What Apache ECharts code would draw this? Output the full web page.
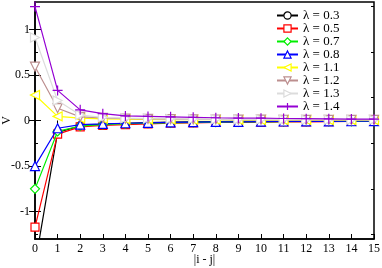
<!DOCTYPE html>
<html><head><meta charset="utf-8">
<script src="https://cdn.jsdelivr.net/npm/echarts@6/dist/echarts.min.js"></script>
<style>html,body{margin:0;padding:0;background:#fff}#c{width:382px;height:268px}</style>
</head><body><div id="c"></div>
<script>
const distances = [0,1,2,3,4,5,6,7,8,9,10,11,12,13,14,15];
const seriesNames = ['λ = 0.3','λ = 0.5','λ = 0.7','λ = 0.8','λ = 1.1','λ = 1.2','λ = 1.3','λ = 1.4'];
const v03 = [-1.58,-0.13,-0.06,-0.04,-0.03,-0.022,-0.018,-0.015,-0.012,-0.01,-0.009,-0.008,-0.007,-0.006,-0.005,-0.004];
const v05 = [-1.17,-0.15,-0.07,-0.055,-0.045,-0.036,-0.03,-0.026,-0.022,-0.02,-0.018,-0.016,-0.014,-0.012,-0.011,-0.01];
const v07 = [-0.75,-0.12,-0.06,-0.045,-0.035,-0.03,-0.025,-0.021,-0.018,-0.016,-0.014,-0.012,-0.011,-0.01,-0.009,-0.008];
const v08 = [-0.5,-0.085,-0.045,-0.038,-0.03,-0.025,-0.021,-0.018,-0.016,-0.014,-0.012,-0.011,-0.01,-0.009,-0.008,-0.007];
const v11 = [0.28,0.045,0.025,0.018,0.014,0.012,0.01,0.009,0.008,0.007,0.006,0.006,0.005,0.005,0.004,0.004];
const v12 = [0.59,0.135,0.04,0.028,0.02,0.017,0.015,0.013,0.011,0.01,0.009,0.008,0.007,0.007,0.006,0.006];
const v13 = [0.91,0.22,0.06,0.035,0.025,0.021,0.018,0.016,0.014,0.012,0.011,0.01,0.009,0.008,0.008,0.007];
const v14 = [1.25,0.33,0.117,0.075,0.05,0.045,0.04,0.035,0.03,0.027,0.025,0.022,0.02,0.018,0.016,0.014];
const xTicks = [0,1,2,3,4,5,6,7,8,9,10,11,12,13,14,15];
const yMajor = [-1,-0.5,0,0.5,1];
const yMinor = [-1.25,-0.75,-0.25,0.25,0.75,1.25];

const allValues = [v03,v05,v07,v08,v11,v12,v13,v14];
const colors = ['#000000','#ff0000','#00ee00','#0000ff','#ffff00','#bc8f8f','#dcdcdc','#9400d3'];
const symbols = [
  'circle','rect','diamond','triangle',
  'path://M0,5L10,0L10,10Z',
  'path://M0,0L10,0L5,10Z',
  'path://M10,5L0,0L0,10Z',
  'path://M0,5L10,5M5,0L5,10'
];
const sizes = [8,8,9,9,9,9,9,10];
const font = 'Liberation Serif';

const series = allValues.map((vals,i)=>({
  name: seriesNames[i], type:'line',
  data: vals.map((v,k)=>[distances[k], v]),
  symbol: symbols[i], symbolSize: sizes[i], showAllSymbol:true,
  clip:true, animation:false,
  lineStyle:{color:colors[i], width:1.2},
  itemStyle:{color:'#ffffff', borderColor:colors[i], borderWidth:1.2},
  emphasis:{disabled:true},
  xAxisIndex:0, yAxisIndex:0, z: 2+i
}));

function yAx(opts){
  return Object.assign({type:'value', min:-1.3, max:1.3, splitLine:{show:false},
    axisLine:{show:false}, axisLabel:{show:false}}, opts);
}
const chart = echarts.init(document.getElementById('c'));
chart.setOption({
  backgroundColor:'#fff',
  animation:false,
  grid:{left:35,right:8,top:2,bottom:29, containLabel:false, outerBoundsMode:'none',
    show:true, borderColor:'#000', borderWidth:1.5, backgroundColor:'transparent'},
  legend:{
    orient:'vertical', left:276, top:9, padding:0, itemWidth:21, itemHeight:9, itemGap:0,
    textStyle:{fontFamily:font, fontSize:13, lineHeight:13, color:'#000'},
    data: seriesNames.map((n,i)=>({name:n, itemStyle:{color:'#ffffff', borderColor:colors[i], borderWidth:1.2}})),
    selectedMode:false
  },
  xAxis:[
    {type:'value', min:0, max:15, interval:1, position:'bottom',
     name:'|i - j|', nameLocation:'middle', nameGap:15, nameMoveOverlap:false,
     nameTextStyle:{fontFamily:font, fontSize:12, color:'#000', verticalAlign:'top'},
     axisLine:{show:true, onZero:false, lineStyle:{color:'#000', width:1.5}},
     axisTick:{inside:true, length:5, lineStyle:{color:'#000', width:1}, customValues:xTicks},
     axisLabel:{fontFamily:font, fontSize:12, color:'#000', margin:4, customValues:xTicks},
     splitLine:{show:false}},
    {type:'value', min:0, max:15, interval:1, position:'top',
     axisLine:{show:false},
     axisTick:{inside:true, length:5, lineStyle:{color:'#000', width:1}},
     axisLabel:{show:false}, splitLine:{show:false}}
  ],
  yAxis:[
    yAx({position:'left', name:'V', nameLocation:'middle', nameGap:22, nameMoveOverlap:false,
      nameTextStyle:{fontFamily:font, fontSize:12, color:'#000'},
      axisLine:{show:true, onZero:false, lineStyle:{color:'#000', width:1.5}},
      axisTick:{inside:true, length:6, lineStyle:{color:'#000', width:1}, customValues:yMajor},
      axisLabel:{show:true, fontFamily:font, fontSize:12, color:'#000', margin:5, customValues:yMajor}}),
    yAx({position:'left', axisTick:{show:true, inside:true, length:3, lineStyle:{color:'#000', width:1}, customValues:yMinor}}),
    yAx({position:'right', axisTick:{show:true, inside:true, length:6, lineStyle:{color:'#000', width:1}, customValues:yMajor}}),
    yAx({position:'right', axisTick:{show:true, inside:true, length:3, lineStyle:{color:'#000', width:1}, customValues:yMinor}})
  ],
  series: series
});
</script></body></html>
